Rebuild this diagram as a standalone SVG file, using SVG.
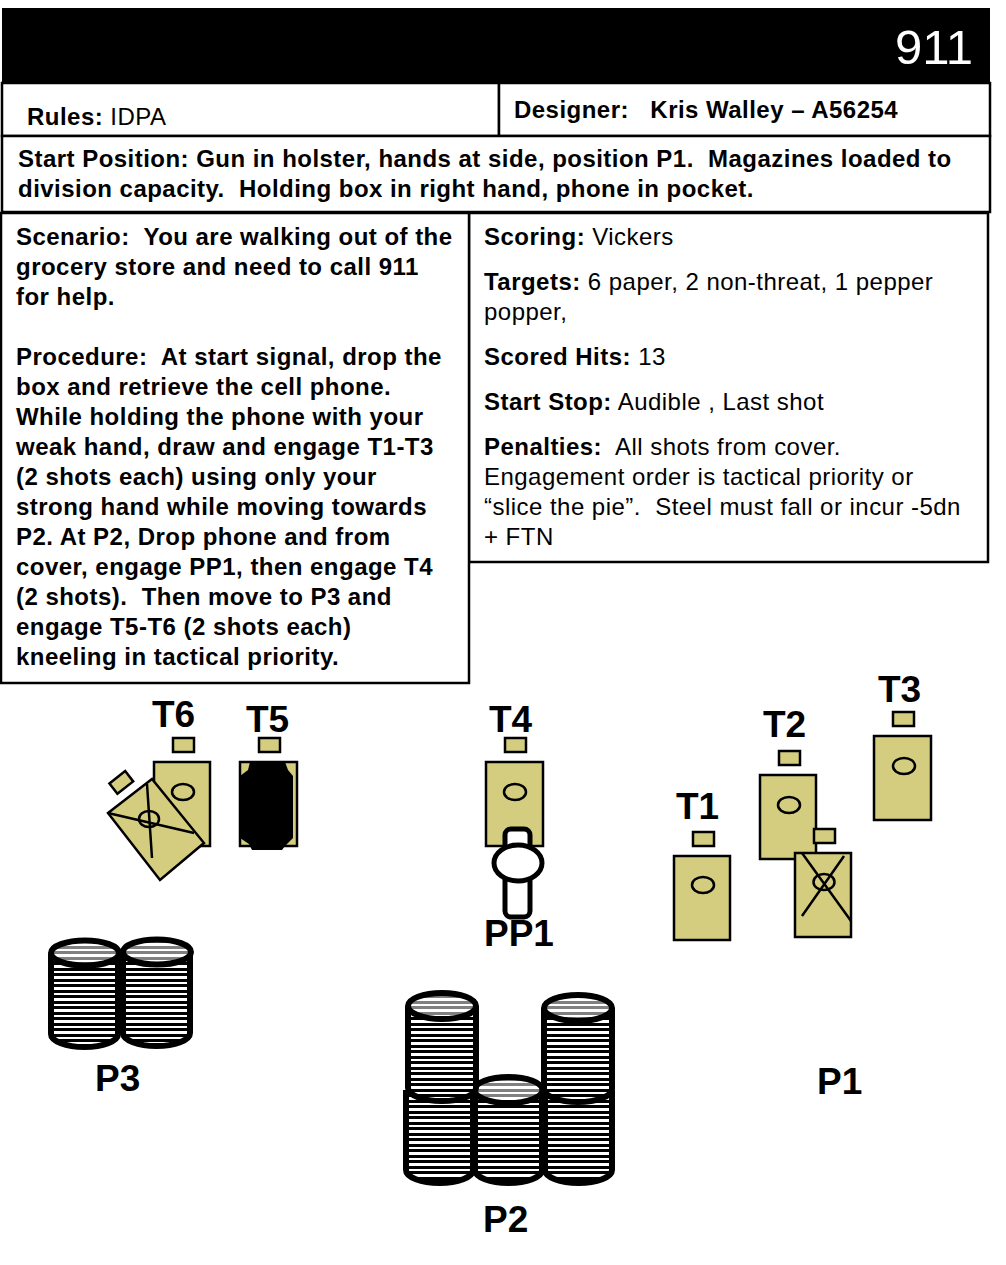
<svg xmlns="http://www.w3.org/2000/svg" width="1006" height="1265" viewBox="0 0 1006 1265">
<style>
text{font-family:"Liberation Sans",Arial,sans-serif;fill:#000;white-space:pre}
.b{font-size:24px;font-weight:700;letter-spacing:.47px}
.r{font-size:24px;font-weight:400;letter-spacing:.47px}
.l{font-size:37px;font-weight:700}
.box{fill:#fff;stroke:#000;stroke-width:2.500}
.t{fill:#D4CD80;stroke:#000;stroke-width:2.500}
.x{fill:none;stroke:#000;stroke-width:2.500}
.e{fill:#D4CD80;stroke:#000;stroke-width:2.500}
.side{fill:url(#stripe);stroke:none}
.edge{fill:none;stroke:#000;stroke-width:6}
.top{fill:url(#stripeg);stroke:#000;stroke-width:6}
</style>
<defs>
<pattern id="stripe" width="10" height="11" patternUnits="userSpaceOnUse"><rect width="10" height="11" fill="#fff"/><rect width="10" height="3" fill="#000"/><rect y="5" width="10" height="3" fill="#000"/></pattern>
<pattern id="stripeg" width="10" height="11" patternUnits="userSpaceOnUse"><rect width="10" height="11" fill="#fff"/><rect width="10" height="3" fill="#808080"/><rect y="5" width="10" height="3" fill="#808080"/></pattern>
</defs>
<rect width="1006" height="1265" fill="#fff"/>
<g id="header">
<rect x="2" y="8" width="988" height="75" fill="#000"/>
<text x="973" y="64" text-anchor="end" style="font-size:49px;fill:#fff">911</text>
</g>
<g id="rules">
<rect class="box" x="2" y="83" width="497" height="53"/>
<text x="27" y="125"><tspan class="b">Rules:</tspan><tspan class="r"> IDPA</tspan></text>
</g>
<g id="designer">
<rect class="box" x="499" y="83" width="491" height="53"/>
<text class="b" x="514" y="118">Designer:   Kris Walley – A56254</text>
</g>
<g id="start">
<rect class="box" x="2" y="136" width="988" height="76"/>
<text class="b" x="18" y="167">Start Position: Gun in holster, hands at side, position P1.  Magazines loaded to</text>
<text class="b" x="18" y="197">division capacity.  Holding box in right hand, phone in pocket.</text>
</g>
<g id="scoring">
<rect class="box" x="469" y="213" width="519" height="349"/>
<text x="484" y="245"><tspan class="b">Scoring:</tspan><tspan class="r"> Vickers</tspan></text>
<text x="484" y="290"><tspan class="b">Targets:</tspan><tspan class="r"> 6 paper, 2 non-threat, 1 pepper</tspan></text>
<text class="r" x="484" y="320">popper,</text>
<text x="484" y="365"><tspan class="b">Scored Hits:</tspan><tspan class="r"> 13</tspan></text>
<text x="484" y="410"><tspan class="b">Start Stop:</tspan><tspan class="r"> Audible , Last shot</tspan></text>
<text x="484" y="455"><tspan class="b">Penalties:</tspan><tspan class="r">  All shots from cover.</tspan></text>
<text class="r" x="484" y="485">Engagement order is tactical priority or</text>
<text class="r" x="484" y="515">“slice the pie”.  Steel must fall or incur -5dn</text>
<text class="r" x="484" y="545">+ FTN</text>
</g>
<g id="scenario">
<rect class="box" x="1" y="213" width="468" height="470"/>
<g class="b">
<text x="16" y="245">Scenario:  You are walking out of the</text>
<text x="16" y="275">grocery store and need to call 911</text>
<text x="16" y="305">for help.</text>
<text x="16" y="365">Procedure:  At start signal, drop the</text>
<text x="16" y="395">box and retrieve the cell phone.</text>
<text x="16" y="425">While holding the phone with your</text>
<text x="16" y="455">weak hand, draw and engage T1-T3</text>
<text x="16" y="485">(2 shots each) using only your</text>
<text x="16" y="515">strong hand while moving towards</text>
<text x="16" y="545">P2. At P2, Drop phone and from</text>
<text x="16" y="575">cover, engage PP1, then engage T4</text>
<text x="16" y="605">(2 shots).  Then move to P3 and</text>
<text x="16" y="635">engage T5-T6 (2 shots each)</text>
<text x="16" y="665">kneeling in tactical priority.</text>
</g>
</g>
<g id="T6">
<text class="l" x="152" y="727">T6</text>
<rect class="t" x="173" y="738" width="21" height="14"/>
<rect class="t" x="154" y="762" width="56" height="84"/>
<ellipse class="e" cx="183" cy="792" rx="11" ry="8"/>
</g>
<g id="NT2">
<rect class="t" x="111" y="776" width="20" height="13" transform="rotate(-38 121 782)"/>
<polygon class="t" points="108,813 152,779 204,843 160,880"/>
<ellipse class="e" cx="149" cy="819" rx="10" ry="8"/>
<path class="x" d="M147,784 L152,858 M108,813 L194,833"/>
</g>
<g id="T5">
<text class="l" x="246" y="732">T5</text>
<rect class="t" x="259" y="738" width="21" height="14"/>
<rect class="t" x="240" y="762" width="57" height="84"/>
<path d="M250,762 H285 L288,770 L293,776 V838 L285,846 L282,850 H252 L249,844 L240,838 V776 L248,770 Z" fill="#000"/>
</g>
<g id="T4">
<text class="l" x="489" y="732">T4</text>
<rect class="t" x="505" y="738" width="21" height="14"/>
<rect class="t" x="486" y="762" width="57" height="84"/>
<ellipse class="e" cx="515" cy="792" rx="11" ry="8"/>
</g>
<g id="PP1">
<rect x="505" y="829" width="25" height="88" rx="6" fill="#fff" stroke="#000" stroke-width="5"/>
<ellipse cx="518" cy="863" rx="24" ry="18" fill="#fff" stroke="#000" stroke-width="5"/>
<text class="l" x="484" y="946">PP1</text>
</g>
<g id="T1">
<text class="l" x="676" y="819">T1</text>
<rect class="t" x="693" y="832" width="21" height="14"/>
<rect class="t" x="674" y="856" width="56" height="84"/>
<ellipse class="e" cx="703" cy="885" rx="11" ry="8"/>
</g>
<g id="T2">
<text class="l" x="763" y="737">T2</text>
<rect class="t" x="779" y="751" width="21" height="14"/>
<rect class="t" x="760" y="775" width="56" height="84"/>
<ellipse class="e" cx="789" cy="805" rx="11" ry="8"/>
</g>
<g id="T3">
<text class="l" x="878" y="702">T3</text>
<rect class="t" x="893" y="712" width="21" height="14"/>
<rect class="t" x="874" y="736" width="57" height="84"/>
<ellipse class="e" cx="904" cy="766" rx="11" ry="8"/>
</g>
<g id="NT1">
<rect class="t" x="814" y="829" width="21" height="14"/>
<rect class="t" x="795" y="853" width="56" height="84"/>
<ellipse class="e" cx="824" cy="882" rx="10.500" ry="8"/>
<path class="x" d="M802,853 L851,921 M844,856 L802,916"/>
</g>
<g id="P3">
<g id="P3a">
<path class="side" d="M51,953 H118 V1034 A33.500,13 0 0 1 51,1034 Z"/>
<path class="edge" d="M51,953 V1034 A33.500,13 0 0 0 118,1034 V953"/>
<ellipse class="top" cx="85" cy="953" rx="34" ry="12.500"/>
</g>
<g id="P3b">
<path class="side" d="M123,952 H190 V1033 A33.500,13 0 0 1 123,1033 Z"/>
<path class="edge" d="M123,952 V1033 A33.500,13 0 0 0 190,1033 V952"/>
<ellipse class="top" cx="157" cy="952" rx="34" ry="12.500"/>
</g>
<text class="l" x="95" y="1091">P3</text>
</g>
<g id="P2">
<g id="P2d">
<path class="side" d="M406,1090 H473 V1170 A33.500,13 0 0 1 406,1170 Z"/>
<path class="edge" d="M406,1090 V1170 A33.500,13 0 0 0 473,1170 V1090"/>
</g>
<g id="P2e">
<path class="side" d="M545,1090 H612 V1170 A33.500,13 0 0 1 545,1170 Z"/>
<path class="edge" d="M545,1090 V1170 A33.500,13 0 0 0 612,1170 V1090"/>
</g>
<g id="P2c">
<path class="side" d="M475,1090 H542 V1170 A33.500,13 0 0 1 475,1170 Z"/>
<path class="edge" d="M475,1090 V1170 A33.500,13 0 0 0 542,1170 V1090"/>
<ellipse class="top" cx="508.500" cy="1090" rx="34" ry="13"/>
</g>
<g id="P2a">
<path class="side" d="M408,1006 H476 V1088 A34,13 0 0 1 408,1088 Z"/>
<path class="edge" d="M408,1006 V1088 A34,13 0 0 0 476,1088 V1006"/>
<ellipse class="top" cx="442" cy="1006" rx="34" ry="13"/>
</g>
<g id="P2b">
<path class="side" d="M544,1008 H612 V1089 A34,13 0 0 1 544,1089 Z"/>
<path class="edge" d="M544,1008 V1089 A34,13 0 0 0 612,1089 V1008"/>
<ellipse class="top" cx="578" cy="1008" rx="34" ry="13"/>
</g>
<text class="l" x="483" y="1232">P2</text>
</g>
<g id="P1"><text class="l" x="817" y="1094">P1</text></g>
</svg>
